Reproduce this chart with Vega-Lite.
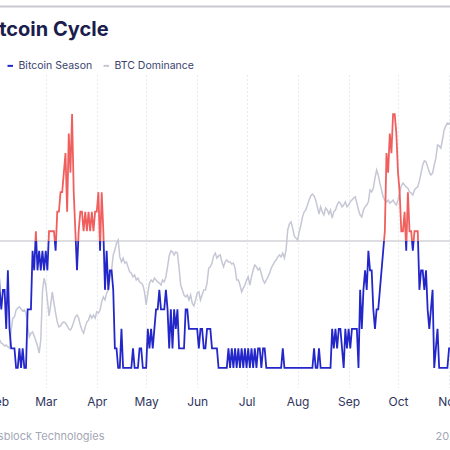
{
  "$schema": "https://vega.github.io/schema/vega-lite/v6.json",
  "width": 452,
  "height": 312.5,
  "autosize": {"type": "none"},
  "padding": {"left": -2, "right": 0, "top": 75, "bottom": 62.5},
  "background": "white",
  "title": {"text": "Bitcoin Cycle", "anchor": "start", "frame": "group", "font": "Inter", "fontSize": 20, "fontWeight": 700, "color": "#1b1d4d", "dx": -17.5, "dy": 49.5, "offset": 0, "baseline": "alphabetic"},
  "config": {"view": {"stroke": null}},
  "data": {"values": [
    {"date":"2024-02-01","season":7,"dom":51.58},
    {"date":"2024-02-02","season":5,"dom":51.52},
    {"date":"2024-02-03","season":4,"dom":51.42},
    {"date":"2024-02-04","season":5,"dom":51.39},
    {"date":"2024-02-05","season":5,"dom":51.33},
    {"date":"2024-02-06","season":3,"dom":51.36},
    {"date":"2024-02-07","season":6,"dom":51.30},
    {"date":"2024-02-08","season":3,"dom":51.26},
    {"date":"2024-02-09","season":2,"dom":51.84},
    {"date":"2024-02-10","season":2,"dom":52.22},
    {"date":"2024-02-11","season":2,"dom":52.26},
    {"date":"2024-02-12","season":1,"dom":52.48},
    {"date":"2024-02-13","season":1,"dom":52.54},
    {"date":"2024-02-14","season":2,"dom":52.58},
    {"date":"2024-02-15","season":1,"dom":52.51},
    {"date":"2024-02-16","season":2,"dom":52.45},
    {"date":"2024-02-17","season":1,"dom":52.48},
    {"date":"2024-02-18","season":1,"dom":52.38},
    {"date":"2024-02-19","season":4,"dom":52.00},
    {"date":"2024-02-20","season":4,"dom":51.62},
    {"date":"2024-02-21","season":4,"dom":51.74},
    {"date":"2024-02-22","season":7,"dom":51.78},
    {"date":"2024-02-23","season":6,"dom":51.65},
    {"date":"2024-02-24","season":8,"dom":51.49},
    {"date":"2024-02-25","season":6,"dom":51.33},
    {"date":"2024-02-26","season":7,"dom":51.10},
    {"date":"2024-02-27","season":6,"dom":51.52},
    {"date":"2024-02-28","season":7,"dom":53.06},
    {"date":"2024-02-29","season":6,"dom":53.50},
    {"date":"2024-03-01","season":7,"dom":53.28},
    {"date":"2024-03-02","season":6,"dom":52.80},
    {"date":"2024-03-03","season":8,"dom":52.29},
    {"date":"2024-03-04","season":8,"dom":52.64},
    {"date":"2024-03-05","season":8,"dom":53.06},
    {"date":"2024-03-06","season":8,"dom":52.70},
    {"date":"2024-03-07","season":7,"dom":52.38},
    {"date":"2024-03-08","season":9,"dom":52.10},
    {"date":"2024-03-09","season":9,"dom":51.94},
    {"date":"2024-03-10","season":10,"dom":51.97},
    {"date":"2024-03-11","season":10,"dom":52.06},
    {"date":"2024-03-12","season":11,"dom":52.10},
    {"date":"2024-03-13","season":12,"dom":52.06},
    {"date":"2024-03-14","season":9,"dom":51.97},
    {"date":"2024-03-15","season":13,"dom":51.87},
    {"date":"2024-03-16","season":11,"dom":51.84},
    {"date":"2024-03-17","season":14,"dom":51.94},
    {"date":"2024-03-18","season":10,"dom":52.10},
    {"date":"2024-03-19","season":8,"dom":52.26},
    {"date":"2024-03-20","season":6,"dom":52.32},
    {"date":"2024-03-21","season":8,"dom":52.22},
    {"date":"2024-03-22","season":9,"dom":52.00},
    {"date":"2024-03-23","season":9,"dom":51.84},
    {"date":"2024-03-24","season":8,"dom":51.74},
    {"date":"2024-03-25","season":9,"dom":51.94},
    {"date":"2024-03-26","season":8,"dom":52.10},
    {"date":"2024-03-27","season":9,"dom":52.16},
    {"date":"2024-03-28","season":8,"dom":52.32},
    {"date":"2024-03-29","season":9,"dom":52.22},
    {"date":"2024-03-30","season":8,"dom":52.32},
    {"date":"2024-03-31","season":9,"dom":52.22},
    {"date":"2024-04-01","season":9,"dom":52.42},
    {"date":"2024-04-02","season":10,"dom":52.38},
    {"date":"2024-04-03","season":7,"dom":52.48},
    {"date":"2024-04-04","season":10,"dom":52.74},
    {"date":"2024-04-05","season":8,"dom":52.90},
    {"date":"2024-04-06","season":5,"dom":52.80},
    {"date":"2024-04-07","season":7,"dom":53.02},
    {"date":"2024-04-08","season":5,"dom":53.12},
    {"date":"2024-04-09","season":6,"dom":53.54},
    {"date":"2024-04-10","season":6,"dom":53.76},
    {"date":"2024-04-11","season":5,"dom":54.24},
    {"date":"2024-04-12","season":2,"dom":54.40},
    {"date":"2024-04-13","season":2,"dom":54.62},
    {"date":"2024-04-14","season":1,"dom":54.72},
    {"date":"2024-04-15","season":1,"dom":54.18},
    {"date":"2024-04-16","season":3,"dom":54.02},
    {"date":"2024-04-17","season":1,"dom":54.14},
    {"date":"2024-04-18","season":1,"dom":53.98},
    {"date":"2024-04-19","season":1,"dom":54.02},
    {"date":"2024-04-20","season":1,"dom":53.86},
    {"date":"2024-04-21","season":1,"dom":53.70},
    {"date":"2024-04-22","season":1,"dom":53.66},
    {"date":"2024-04-23","season":2,"dom":53.54},
    {"date":"2024-04-24","season":1,"dom":53.60},
    {"date":"2024-04-25","season":1,"dom":53.44},
    {"date":"2024-04-26","season":1,"dom":53.50},
    {"date":"2024-04-27","season":2,"dom":53.38},
    {"date":"2024-04-28","season":2,"dom":53.34},
    {"date":"2024-04-29","season":1,"dom":53.28},
    {"date":"2024-04-30","season":1,"dom":53.06},
    {"date":"2024-05-01","season":1,"dom":52.64},
    {"date":"2024-05-02","season":3,"dom":53.02},
    {"date":"2024-05-03","season":2,"dom":53.34},
    {"date":"2024-05-04","season":3,"dom":53.44},
    {"date":"2024-05-05","season":2,"dom":53.38},
    {"date":"2024-05-06","season":3,"dom":53.50},
    {"date":"2024-05-07","season":4,"dom":53.44},
    {"date":"2024-05-08","season":4,"dom":53.38},
    {"date":"2024-05-09","season":5,"dom":53.34},
    {"date":"2024-05-10","season":4,"dom":53.28},
    {"date":"2024-05-11","season":4,"dom":53.44},
    {"date":"2024-05-12","season":4,"dom":53.38},
    {"date":"2024-05-13","season":5,"dom":53.54},
    {"date":"2024-05-14","season":4,"dom":53.86},
    {"date":"2024-05-15","season":2,"dom":54.21},
    {"date":"2024-05-16","season":4,"dom":54.37},
    {"date":"2024-05-17","season":2,"dom":54.34},
    {"date":"2024-05-18","season":4,"dom":54.24},
    {"date":"2024-05-19","season":3,"dom":54.34},
    {"date":"2024-05-20","season":4,"dom":54.30},
    {"date":"2024-05-21","season":2,"dom":53.82},
    {"date":"2024-05-22","season":2,"dom":53.28},
    {"date":"2024-05-23","season":2,"dom":53.12},
    {"date":"2024-05-24","season":2,"dom":52.96},
    {"date":"2024-05-25","season":4,"dom":52.90},
    {"date":"2024-05-26","season":4,"dom":52.96},
    {"date":"2024-05-27","season":3,"dom":52.80},
    {"date":"2024-05-28","season":3,"dom":52.96},
    {"date":"2024-05-29","season":3,"dom":52.70},
    {"date":"2024-05-30","season":3,"dom":52.61},
    {"date":"2024-05-31","season":3,"dom":52.80},
    {"date":"2024-06-01","season":3,"dom":53.02},
    {"date":"2024-06-02","season":2,"dom":53.06},
    {"date":"2024-06-03","season":3,"dom":52.80},
    {"date":"2024-06-04","season":3,"dom":52.96},
    {"date":"2024-06-05","season":2,"dom":53.12},
    {"date":"2024-06-06","season":2,"dom":53.12},
    {"date":"2024-06-07","season":3,"dom":53.34},
    {"date":"2024-06-08","season":3,"dom":53.82},
    {"date":"2024-06-09","season":3,"dom":53.86},
    {"date":"2024-06-10","season":2,"dom":53.98},
    {"date":"2024-06-11","season":2,"dom":54.21},
    {"date":"2024-06-12","season":2,"dom":54.30},
    {"date":"2024-06-13","season":2,"dom":54.14},
    {"date":"2024-06-14","season":1,"dom":54.21},
    {"date":"2024-06-15","season":1,"dom":54.24},
    {"date":"2024-06-16","season":1,"dom":54.02},
    {"date":"2024-06-17","season":1,"dom":53.86},
    {"date":"2024-06-18","season":1,"dom":54.02},
    {"date":"2024-06-19","season":1,"dom":54.08},
    {"date":"2024-06-20","season":2,"dom":54.02},
    {"date":"2024-06-21","season":1,"dom":54.02},
    {"date":"2024-06-22","season":2,"dom":53.95},
    {"date":"2024-06-23","season":1,"dom":53.98},
    {"date":"2024-06-24","season":2,"dom":53.82},
    {"date":"2024-06-25","season":1,"dom":53.44},
    {"date":"2024-06-26","season":2,"dom":53.44},
    {"date":"2024-06-27","season":1,"dom":53.28},
    {"date":"2024-06-28","season":2,"dom":53.06},
    {"date":"2024-06-29","season":1,"dom":53.18},
    {"date":"2024-06-30","season":2,"dom":53.28},
    {"date":"2024-07-01","season":1,"dom":53.44},
    {"date":"2024-07-02","season":2,"dom":53.54},
    {"date":"2024-07-03","season":1,"dom":53.28},
    {"date":"2024-07-04","season":2,"dom":53.54},
    {"date":"2024-07-05","season":1,"dom":53.76},
    {"date":"2024-07-06","season":2,"dom":53.92},
    {"date":"2024-07-07","season":1,"dom":53.86},
    {"date":"2024-07-08","season":2,"dom":53.76},
    {"date":"2024-07-09","season":2,"dom":53.82},
    {"date":"2024-07-10","season":1,"dom":53.63},
    {"date":"2024-07-11","season":2,"dom":53.44},
    {"date":"2024-07-12","season":2,"dom":53.34},
    {"date":"2024-07-13","season":1,"dom":53.44},
    {"date":"2024-07-14","season":1,"dom":53.54},
    {"date":"2024-07-15","season":1,"dom":53.66},
    {"date":"2024-07-16","season":1,"dom":53.82},
    {"date":"2024-07-17","season":1,"dom":53.92},
    {"date":"2024-07-18","season":1,"dom":54.02},
    {"date":"2024-07-19","season":1,"dom":54.08},
    {"date":"2024-07-20","season":1,"dom":54.18},
    {"date":"2024-07-21","season":1,"dom":54.24},
    {"date":"2024-07-22","season":1,"dom":54.18},
    {"date":"2024-07-23","season":2,"dom":54.30},
    {"date":"2024-07-24","season":1,"dom":54.14},
    {"date":"2024-07-25","season":1,"dom":54.40},
    {"date":"2024-07-26","season":1,"dom":55.04},
    {"date":"2024-07-27","season":1,"dom":55.23},
    {"date":"2024-07-28","season":1,"dom":55.30},
    {"date":"2024-07-29","season":1,"dom":55.10},
    {"date":"2024-07-30","season":1,"dom":54.85},
    {"date":"2024-07-31","season":1,"dom":54.78},
    {"date":"2024-08-01","season":1,"dom":54.72},
    {"date":"2024-08-02","season":1,"dom":54.98},
    {"date":"2024-08-03","season":1,"dom":55.20},
    {"date":"2024-08-04","season":1,"dom":55.46},
    {"date":"2024-08-05","season":1,"dom":55.62},
    {"date":"2024-08-06","season":1,"dom":55.68},
    {"date":"2024-08-07","season":1,"dom":55.84},
    {"date":"2024-08-08","season":1,"dom":56.00},
    {"date":"2024-08-09","season":1,"dom":56.13},
    {"date":"2024-08-10","season":1,"dom":56.19},
    {"date":"2024-08-11","season":2,"dom":56.13},
    {"date":"2024-08-12","season":1,"dom":56.00},
    {"date":"2024-08-13","season":1,"dom":55.78},
    {"date":"2024-08-14","season":2,"dom":55.55},
    {"date":"2024-08-15","season":1,"dom":55.78},
    {"date":"2024-08-16","season":1,"dom":55.62},
    {"date":"2024-08-17","season":1,"dom":55.52},
    {"date":"2024-08-18","season":1,"dom":55.74},
    {"date":"2024-08-19","season":1,"dom":55.68},
    {"date":"2024-08-20","season":1,"dom":55.55},
    {"date":"2024-08-21","season":1,"dom":55.68},
    {"date":"2024-08-22","season":3,"dom":55.42},
    {"date":"2024-08-23","season":2,"dom":55.62},
    {"date":"2024-08-24","season":3,"dom":55.68},
    {"date":"2024-08-25","season":2,"dom":55.84},
    {"date":"2024-08-26","season":3,"dom":55.94},
    {"date":"2024-08-27","season":3,"dom":55.90},
    {"date":"2024-08-28","season":2,"dom":55.78},
    {"date":"2024-08-29","season":1,"dom":55.84},
    {"date":"2024-08-30","season":3,"dom":55.94},
    {"date":"2024-08-31","season":2,"dom":55.78},
    {"date":"2024-09-01","season":3,"dom":55.84},
    {"date":"2024-09-02","season":2,"dom":55.94},
    {"date":"2024-09-03","season":3,"dom":56.00},
    {"date":"2024-09-04","season":3,"dom":56.06},
    {"date":"2024-09-05","season":3,"dom":56.10},
    {"date":"2024-09-06","season":3,"dom":55.90},
    {"date":"2024-09-07","season":1,"dom":55.68},
    {"date":"2024-09-08","season":5,"dom":55.52},
    {"date":"2024-09-09","season":3,"dom":55.46},
    {"date":"2024-09-10","season":5,"dom":55.68},
    {"date":"2024-09-11","season":6,"dom":55.78},
    {"date":"2024-09-12","season":5,"dom":55.84},
    {"date":"2024-09-13","season":7,"dom":55.94},
    {"date":"2024-09-14","season":6,"dom":56.32},
    {"date":"2024-09-15","season":6,"dom":56.26},
    {"date":"2024-09-16","season":4,"dom":56.38},
    {"date":"2024-09-17","season":3,"dom":56.70},
    {"date":"2024-09-18","season":4,"dom":56.96},
    {"date":"2024-09-19","season":4,"dom":56.80},
    {"date":"2024-09-20","season":5,"dom":56.54},
    {"date":"2024-09-21","season":6,"dom":56.32},
    {"date":"2024-09-22","season":7,"dom":56.10},
    {"date":"2024-09-23","season":8,"dom":56.00},
    {"date":"2024-09-24","season":12,"dom":55.94},
    {"date":"2024-09-25","season":11,"dom":56.00},
    {"date":"2024-09-26","season":13,"dom":55.90},
    {"date":"2024-09-27","season":12,"dom":55.94},
    {"date":"2024-09-28","season":14,"dom":56.00},
    {"date":"2024-09-29","season":14,"dom":55.90},
    {"date":"2024-09-30","season":13,"dom":55.84},
    {"date":"2024-10-01","season":11,"dom":56.00},
    {"date":"2024-10-02","season":10,"dom":56.26},
    {"date":"2024-10-03","season":8,"dom":56.45},
    {"date":"2024-10-04","season":8,"dom":56.54},
    {"date":"2024-10-05","season":9,"dom":56.48},
    {"date":"2024-10-06","season":7,"dom":56.42},
    {"date":"2024-10-07","season":10,"dom":56.38},
    {"date":"2024-10-08","season":8,"dom":56.26},
    {"date":"2024-10-09","season":8,"dom":56.22},
    {"date":"2024-10-10","season":7,"dom":56.16},
    {"date":"2024-10-11","season":8,"dom":56.32},
    {"date":"2024-10-12","season":8,"dom":56.38},
    {"date":"2024-10-13","season":8,"dom":56.42},
    {"date":"2024-10-14","season":5,"dom":56.61},
    {"date":"2024-10-15","season":6,"dom":56.86},
    {"date":"2024-10-16","season":6,"dom":57.12},
    {"date":"2024-10-17","season":5,"dom":57.25},
    {"date":"2024-10-18","season":6,"dom":57.22},
    {"date":"2024-10-19","season":4,"dom":57.06},
    {"date":"2024-10-20","season":3,"dom":56.90},
    {"date":"2024-10-21","season":4,"dom":56.80},
    {"date":"2024-10-22","season":5,"dom":56.86},
    {"date":"2024-10-23","season":1,"dom":57.12},
    {"date":"2024-10-24","season":2,"dom":57.34},
    {"date":"2024-10-25","season":3,"dom":57.76},
    {"date":"2024-10-26","season":1,"dom":57.73},
    {"date":"2024-10-27","season":1,"dom":57.66},
    {"date":"2024-10-28","season":1,"dom":57.92},
    {"date":"2024-10-29","season":1,"dom":58.24},
    {"date":"2024-10-30","season":1,"dom":58.37},
    {"date":"2024-10-31","season":1,"dom":58.46},
    {"date":"2024-11-01","season":2,"dom":58.43},
    {"date":"2024-11-02","season":2,"dom":58.50}
  ]},
  "resolve": {"scale": {"y": "independent"}, "axis": {"x": "independent"}},
  "layer": [
    {
      "mark": {"type": "rule", "color": "#dcdde3", "strokeWidth": 1},
      "encoding": {
        "y": {"datum": 7.5, "type": "quantitative", "scale": {"domain": [0, 16], "nice": false, "zero": false}, "axis": null}
      }
    },
    {
      "mark": {"type": "line", "strokeWidth": 1.5, "clip": true},
      "encoding": {
        "x": {"field": "date", "type": "temporal",
          "scale": {"type": "utc", "domain": [{"year": 2024, "month": 2, "date": 1, "utc": true}, {"year": 2024, "month": 11, "date": 1, "hours": 14, "utc": true}]},
          "axis": {"orient": "bottom", "format": "%b", "tickCount": {"interval": "month", "step": 1}, "labelFlush": false, "labelOverlap": false, "labelFont": "Inter", "labelFontSize": 12, "labelColor": "#30355e", "labelPadding": 9, "ticks": false, "tickSize": 0, "domain": false, "grid": true, "gridColor": "#d3d4dc", "gridDash": [1, 3], "gridWidth": 1,
            "title": "Source: Glassblock Technologies", "titleFont": "Inter", "titleFontSize": 11, "titleFontWeight": "normal", "titleColor": "#a4a7b6", "titleAlign": "right", "titleBaseline": "alphabetic", "titleX": 106, "titleY": 51.5}},
        "y": {"field": "dom", "type": "quantitative", "scale": {"domain": [50, 60], "nice": false, "zero": false},
          "axis": {"orient": "right", "labels": false, "ticks": false, "domain": false, "grid": false, "title": "2024", "titleAngle": 0, "titleAlign": "left", "titleBaseline": "alphabetic", "titleX": -15, "titleY": 364, "titleFont": "Inter", "titleFontSize": 11, "titleFontWeight": "normal", "titleColor": "#a4a7b6"}},
        "color": {"datum": "BTC Dominance", "type": "nominal",
          "scale": {"domain": ["Bitcoin Season", "BTC Dominance"], "range": ["#2326c9", "#c5c7d5"]},
          "legend": {"orient": "none", "legendX": 7, "legendY": -14.5, "direction": "horizontal", "title": null, "symbolType": "stroke", "symbolSize": 30, "symbolStrokeWidth": 2, "labelFont": "Inter", "labelFontSize": 10.5, "labelColor": "#3a3f6e", "labelOffset": 3, "columnPadding": 6}}
      }
    },
    {
      "mark": {"type": "line", "strokeWidth": 1.8, "clip": true,
        "stroke": {"gradient": "linear", "x1": 0, "y1": 0, "x2": 0, "y2": 1, "stops": [
          {"offset": 0, "color": "#ef5f5d"}, {"offset": 0.5, "color": "#ef5f5d"},
          {"offset": 0.5, "color": "#2326c9"}, {"offset": 1, "color": "#2326c9"}]}},
      "encoding": {
        "x": {"field": "date", "type": "temporal",
          "axis": {"orient": "top", "offset": 69, "labels": false, "ticks": false, "grid": false, "domain": true, "domainColor": "#c9cad1", "domainWidth": 2, "title": null, "zindex": 1}},
        "y": {"field": "season", "type": "quantitative", "scale": {"domain": [0, 16], "nice": false, "zero": false}, "axis": null}
      }
    }
  ]
}
